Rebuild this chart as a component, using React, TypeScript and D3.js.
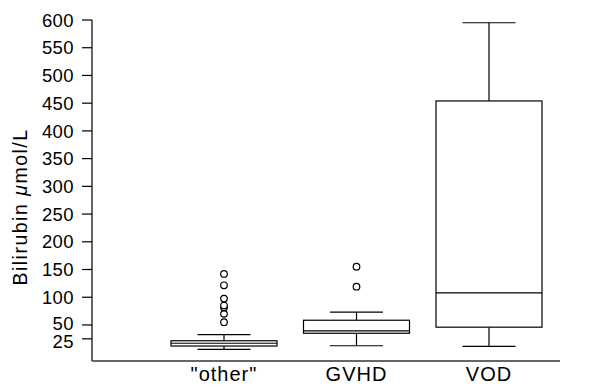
import React from 'react';
import * as d3 from 'd3';

const categories = ['"other"', 'GVHD', 'VOD'];
const whiskerLow = [6, 12.5, 11.5];
const q1 = [12, 35, 46];
const median = [17, 39.5, 108];
const q3 = [21.5, 58.5, 454];
const whiskerHigh = [32.5, 73, 595];
const outliers = [
  [55, 70, 81.5, 85, 97.5, 121.5, 142],
  [119, 155],
  [],
];
const yTicks = [25, 50, 100, 150, 200, 250, 300, 350, 400, 450, 500, 550, 600];

const W = 616;
const H = 386;
const axisLeft = 92;
const axisRight = 560;
const plotTop = 20;
const plotBottom = 361;
const font = '"Liberation Sans", Arial, Helvetica, sans-serif';

export default function App() {
  const y = d3.scaleLinear().domain([-15, 600]).range([plotBottom, plotTop]);
  const x = d3
    .scalePoint<string>()
    .domain(categories)
    .range([axisLeft + 132, axisLeft + 397]);
  const boxW = 106;

  return (
    <svg
      width={W}
      height={H}
      style={{ position: 'absolute', left: 0, top: 0, background: '#fff' }}
      fontFamily={font}
    >
      {/* y axis */}
      <line x1={axisLeft} x2={axisLeft} y1={y(600)} y2={plotBottom} stroke="#000" strokeWidth={1.2} />
      {yTicks.map(t => (
        <g key={t} transform={`translate(0, ${y(t)})`}>
          <line x1={axisLeft - 10} x2={axisLeft} stroke="#000" strokeWidth={1.2} />
          <text
            x={axisLeft - 18}
            dy={t === 25 ? '0.5em' : t === 50 ? '0.25em' : '0.36em'}
            textAnchor="end"
            fontSize={18.5}
            letterSpacing={0.4}
            fill="#000"
          >
            {t}
          </text>
        </g>
      ))}
      <text
        transform={`translate(27, 207) rotate(-90)`}
        textAnchor="middle"
        fontSize={19.5}
        letterSpacing={1.5}
        fill="#000"
      >
        Bilirubin <tspan fontStyle="italic">μ</tspan>mol/L
      </text>

      {/* x axis */}
      <line x1={axisLeft} x2={axisRight} y1={plotBottom} y2={plotBottom} stroke="#333" strokeWidth={1.4} />
      {categories.map(c => (
        <text key={c} x={x(c)} y={381} textAnchor="middle" fontSize={20} letterSpacing={1} fill="#000">
          {c}
        </text>
      ))}

      {/* boxes */}
      {categories.map((c, i) => {
        const cx = x(c) as number;
        return (
          <g key={c} stroke="#000" strokeWidth={1.2} fill="none">
            <line x1={cx} x2={cx} y1={y(whiskerHigh[i])} y2={y(q3[i])} />
            <line x1={cx} x2={cx} y1={y(q1[i])} y2={y(whiskerLow[i])} />
            <line x1={cx - boxW / 4} x2={cx + boxW / 4} y1={y(whiskerHigh[i])} y2={y(whiskerHigh[i])} />
            <line x1={cx - boxW / 4} x2={cx + boxW / 4} y1={y(whiskerLow[i])} y2={y(whiskerLow[i])} />
            <rect
              x={cx - boxW / 2}
              y={y(q3[i])}
              width={boxW}
              height={y(q1[i]) - y(q3[i])}
              fill="#fff"
            />
            <line x1={cx - boxW / 2} x2={cx + boxW / 2} y1={y(median[i])} y2={y(median[i])} />
            {outliers[i].map((o, j) => (
              <circle key={j} cx={cx} cy={y(o)} r={3.3} fill="#fff" />
            ))}
          </g>
        );
      })}
    </svg>
  );
}
